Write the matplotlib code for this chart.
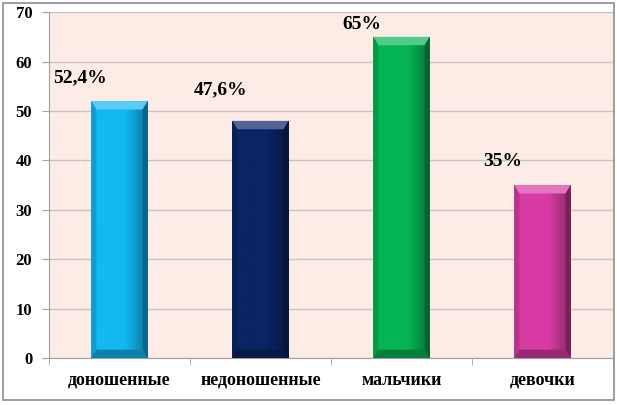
import numpy as np
import matplotlib.pyplot as plt
from matplotlib.patches import Rectangle, Polygon
from matplotlib.colors import to_rgb

categories = ["доношенные", "недоношенные", "мальчики", "девочки"]
values = [52, 48, 65, 35]
labels = ["52,4%", "47,6%", "65%", "35%"]
colors = ["#12B8F2", "#0A2464", "#05B555", "#D83CA4"]
label_offsets = [4.7, 6.3, 2.6, 4.7]  # label height above bar top

plt.rcParams["font.family"] = ["Liberation Serif", "DejaVu Serif"]

fig = plt.figure(figsize=(6.17, 4.05), dpi=100)
ax = fig.add_axes([0.0794, 0.116, 0.9141, 0.854])
ax.set_facecolor("#FDECE6")

x = np.arange(len(categories))
width = 0.4
bars = ax.bar(x, values, width=width, color=colors, zorder=3)


def shade(c, f):
    r = np.array(to_rgb(c))
    if f > 0:
        return tuple(r + (1 - r) * f)
    return tuple(r * (1 + f))


# bevel effect on each bar
for b, c in zip(bars, colors):
    x0, w, h = b.get_x(), b.get_width(), b.get_height()
    bx = w * 0.09
    by = 1.7
    grad = np.linspace(0, 1, 64)
    base = np.array(to_rgb(c))
    img = np.array([base * (1 - 0.35 * max(0, t - 0.6) / 0.4) for t in grad])[None, :, :]
    im = ax.imshow(img, extent=(x0, x0 + w, 0, h), aspect="auto", zorder=3.5)
    im.set_clip_path(b)
    ax.add_patch(Polygon([(x0, h), (x0 + w, h), (x0 + w - bx, h - by), (x0 + bx, h - by)],
                         closed=True, color=shade(c, 0.3), zorder=4, lw=0))
    ax.add_patch(Polygon([(x0 + w, h), (x0 + w, 0), (x0 + w - bx, by), (x0 + w - bx, h - by)],
                         closed=True, color=shade(c, -0.45), zorder=4, lw=0))
    ax.add_patch(Polygon([(x0, h), (x0, 0), (x0 + bx, by), (x0 + bx, h - by)],
                         closed=True, color=shade(c, -0.15), zorder=4, lw=0))
    ax.add_patch(Polygon([(x0, 0), (x0 + w, 0), (x0 + w - bx, by), (x0 + bx, by)],
                         closed=True, color=shade(c, -0.3), zorder=4, lw=0))

for xi, v, lab, off in zip(x, values, labels, label_offsets):
    ax.text(xi - 0.28, v + off, lab, ha="center", va="center",
            fontsize=14, fontweight="bold", zorder=5)

ax.set_xlim(-0.5, len(categories) - 0.5)
ax.set_ylim(0, 70)
ax.set_yticks(range(0, 71, 10))
ax.set_xticks(x)
ax.set_xticklabels(categories, fontsize=13, fontweight="bold")
ax.set_xticks(np.arange(-0.5, len(categories)), minor=True)
ax.tick_params(axis="x", which="major", length=0, pad=10)
ax.tick_params(axis="x", which="minor", length=5, color="#A0A0A0")
ax.tick_params(axis="y", length=5, color="#A0A0A0", pad=7)
for t in ax.get_yticklabels():
    t.set_fontweight("bold")
    t.set_fontsize(12)

ax.grid(axis="y", color="#C4C4C4", lw=1.0, zorder=1)
for s in ["top", "right"]:
    ax.spines[s].set_visible(False)
for s in ["left", "bottom"]:
    ax.spines[s].set_color("#A0A0A0")

fig.patches.append(Rectangle((0.005, 0.012), 0.99, 0.98, transform=fig.transFigure,
                             fill=False, edgecolor="#8C8C8C", lw=1.2, zorder=0))

fig.savefig("out.png", dpi=100)
